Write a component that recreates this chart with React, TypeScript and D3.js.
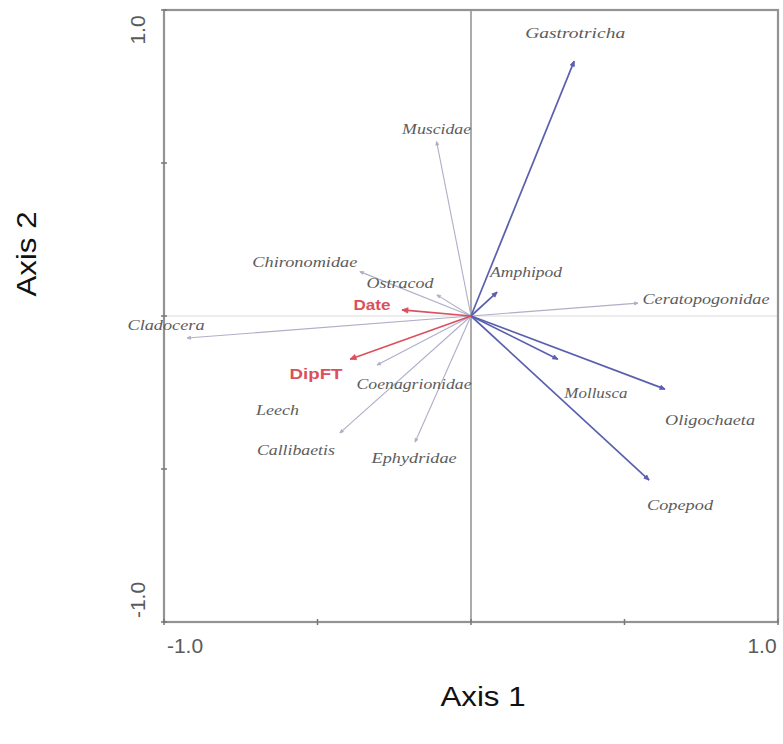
import React from "react";
import * as d3 from "d3";

// ---- data ----
const species = ["Gastrotricha","Muscidae","Chironomidae","Ostracod","Cladocera","Coenagrionidae","Leech","Callibaetis","Ephydridae","Amphipod","Ceratopogonidae","Mollusca","Oligochaeta","Copepod"];
const speciesAxis1 = [0.336, -0.112, -0.362, -0.111, -0.925, -0.306, -0.63, -0.427, -0.182, 0.085, 0.544, 0.283, 0.632, 0.580];
const speciesAxis2 = [0.833, 0.570, 0.145, 0.069, -0.072, -0.160, -0.307, -0.382, -0.412, 0.078, 0.042, -0.141, -0.239, -0.536];
const speciesGroup = ["blue","gray","gray","gray","gray","gray","none","gray","gray","blue","gray","blue","blue","blue"];
const envVars = ["Date", "DipFT"];
const envAxis1 = [-0.225, -0.394];
const envAxis2 = [0.020, -0.141];
const xTicks = [-1, -0.5, 0, 0.5, 1];
const yTicks = [-1, -0.5, 0, 0.5, 1];

// ---- layout (label offsets in px from arrow tip, label widths) ----
const labelLayout: Record<string, [number, number, number]> = {
  Gastrotricha: [1, -28, 100],
  Muscidae: [0, -13, 69],
  Chironomidae: [-55, -10, 105],
  Ostracod: [-37, -12, 67],
  Cladocera: [-21, -13, 77],
  Coenagrionidae: [37, 19, 115],
  Leech: [0, 0, 43],
  Callibaetis: [-44, 17, 78],
  Ephydridae: [-1, 16, 85],
  Amphipod: [29, -20, 72],
  Ceratopogonidae: [68, -4, 127],
  Mollusca: [38, 34, 63],
  Oligochaeta: [45, 31, 90],
  Copepod: [31, 25, 66],
  Date: [-30, -5, 37],
  DipFT: [-34, 15, 53],
};

const W = 783, H = 744;
const x = d3.scaleLinear().domain([-1, 1]).range([164, 778]);
const y = d3.scaleLinear().domain([-1, 1]).range([622, 10]);

const colors: Record<string, { stroke: string; width: number; head: number }> = {
  blue: { stroke: "#5a60ad", width: 1.7, head: 5 },
  gray: { stroke: "#aeafc8", width: 1.1, head: 3.5 },
  red: { stroke: "#dc4f5c", width: 1.6, head: 6 },
};

function Arrow({ vx, vy, kind }: { vx: number; vy: number; kind: string }) {
  const c = colors[kind];
  const x0 = x(0), y0 = y(0), x1 = x(vx), y1 = y(vy);
  const ang = Math.atan2(y1 - y0, x1 - x0);
  const h = c.head;
  const p1 = [x1 - h * Math.cos(ang) + (h * 0.45) * Math.sin(ang), y1 - h * Math.sin(ang) - (h * 0.45) * Math.cos(ang)];
  const p2 = [x1 - h * Math.cos(ang) - (h * 0.45) * Math.sin(ang), y1 - h * Math.sin(ang) + (h * 0.45) * Math.cos(ang)];
  return (
    <g>
      <line x1={x0} y1={y0} x2={x1} y2={y1} stroke={c.stroke} strokeWidth={c.width} />
      <polygon points={`${x1},${y1} ${p1[0]},${p1[1]} ${p2[0]},${p2[1]}`} fill={c.stroke} stroke={c.stroke} strokeWidth={0.8} />
    </g>
  );
}

export default function App() {
  return (
    <svg width={W} height={H} style={{ position: "absolute", left: 0, top: 0, background: "#fff" }}>
      <rect x={0} y={0} width={W} height={H} fill="#fff" />
      {/* zero lines */}
      <line x1={x(-1)} x2={x(1)} y1={y(0)} y2={y(0)} stroke="#e6e6e6" strokeWidth={1.5} />
      <line x1={x(0)} x2={x(0)} y1={y(1)} y2={y(-1)} stroke="#8f8f8f" strokeWidth={1.5} />
      {/* frame */}
      <rect x={x(-1)} y={y(1)} width={x(1) - x(-1)} height={y(-1) - y(1)} fill="none" stroke="#939393" strokeWidth={2.2} />
      {/* ticks */}
      {xTicks.map((t) => (
        <line key={"xt" + t} x1={x(t)} x2={x(t)} y1={y(-1) - 3} y2={y(-1) + 3} stroke="#777" strokeWidth={1.5} />
      ))}
      {yTicks.map((t) => (
        <line key={"yt" + t} x1={x(-1) - 3} x2={x(-1) + 3} y1={y(t)} y2={y(t)} stroke="#777" strokeWidth={1.5} />
      ))}
      {/* tick labels */}
      <text x={x(-1) + 21} y={y(-1) + 31} textAnchor="middle" fontFamily="Liberation Sans, Arial, sans-serif" fontSize={21} fill="#5a5a5a">-1.0</text>
      <text x={x(1) - 16} y={y(-1) + 31} textAnchor="middle" fontFamily="Liberation Sans, Arial, sans-serif" fontSize={21} fill="#5a5a5a">1.0</text>
      <text transform={`translate(${x(-1) - 19},${y(1) + 20}) rotate(-90)`} textAnchor="middle" fontFamily="Liberation Sans, Arial, sans-serif" fontSize={21} fill="#5a5a5a">1.0</text>
      <text transform={`translate(${x(-1) - 19},${y(-1) - 22}) rotate(-90)`} textAnchor="middle" fontFamily="Liberation Sans, Arial, sans-serif" fontSize={21} fill="#5a5a5a">-1.0</text>
      {/* axis titles */}
      <text x={483} y={706} textAnchor="middle" fontFamily="Liberation Sans, Arial, sans-serif" fontSize={27} fill="#111" textLength={85} lengthAdjust="spacingAndGlyphs">Axis 1</text>
      <text transform={`translate(36,254) rotate(-90)`} textAnchor="middle" fontFamily="Liberation Sans, Arial, sans-serif" fontSize={27} fill="#111" textLength={85} lengthAdjust="spacingAndGlyphs">Axis 2</text>
      {/* species arrows */}
      {species.map((s, i) =>
        speciesGroup[i] === "none" ? null : (
          <Arrow key={"a" + s} vx={speciesAxis1[i]} vy={speciesAxis2[i]} kind={speciesGroup[i]} />
        )
      )}
      {/* env arrows */}
      {envVars.map((e, i) => (
        <Arrow key={"e" + e} vx={envAxis1[i]} vy={envAxis2[i]} kind="red" />
      ))}
      {/* species labels */}
      {species.map((s, i) => {
        const [dx, dy, w] = labelLayout[s];
        return (
          <text key={"l" + s} x={x(speciesAxis1[i]) + dx} y={y(speciesAxis2[i]) + dy + 5} textAnchor="middle"
            fontFamily="Liberation Serif, Times New Roman, serif" fontStyle="italic" fontSize={14} fill="#5c5c5c"
            textLength={w} lengthAdjust="spacingAndGlyphs">{s}</text>
        );
      })}
      {envVars.map((e, i) => {
        const [dx, dy, w] = labelLayout[e];
        return (
          <text key={"le" + e} x={x(envAxis1[i]) + dx} y={y(envAxis2[i]) + dy + 5} textAnchor="middle"
            fontFamily="Liberation Sans, Arial, sans-serif" fontWeight="bold" fontSize={14} fill="#dc4f5c"
            textLength={w} lengthAdjust="spacingAndGlyphs">{e}</text>
        );
      })}
    </svg>
  );
}
